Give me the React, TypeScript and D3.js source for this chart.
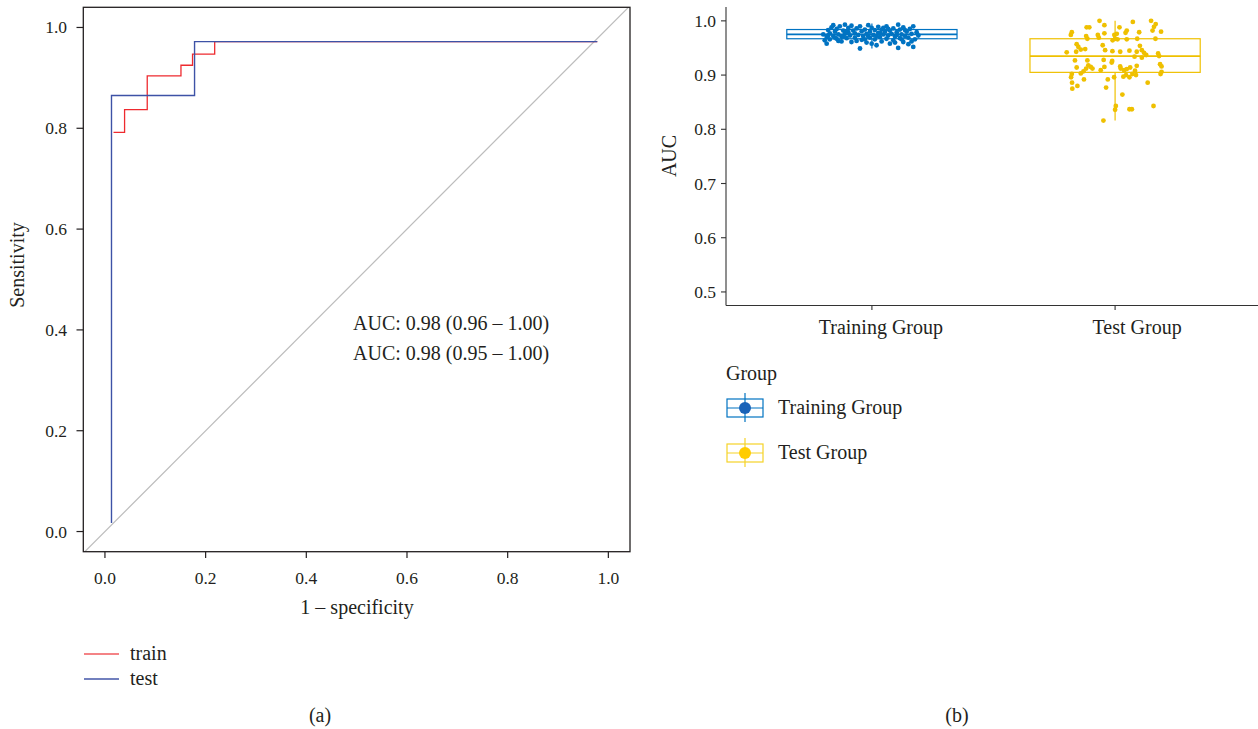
import React from "react";
import * as d3 from "d3";

// ROC step curves, (1 - specificity, sensitivity) corners
const trainFpr = [0.017, 0.039, 0.084, 0.151, 0.174, 0.218, 0.978];
const trainTpr = [0.792, 0.837, 0.904, 0.925, 0.947, 0.972, 0.972];
const testFpr = [0.013, 0.013, 0.178, 0.978];
const testTpr = [0.017, 0.865, 0.972, 0.972];
const rocTicks = [0, 0.2, 0.4, 0.6, 0.8, 1.0];
const aucLabels = ["AUC: 0.98 (0.96 – 1.00)", "AUC: 0.98 (0.95 – 1.00)"];

// panel (b)
const groups = ["Training Group", "Test Group"];
const aucTicks = [0.5, 0.6, 0.7, 0.8, 0.9, 1.0];
// box stats: lower whisker, q1, median, q3, upper whisker
const trainBox = [0.949, 0.967, 0.975, 0.984, 0.995];
const testBox = [0.816, 0.905, 0.935, 0.967, 1.0];

// jittered points: [horizontal jitter (category units), AUC]
const trainPts = [
  [-0.2, 0.975], [-0.194, 0.964], [-0.186, 0.97], [-0.186, 0.958], [-0.18, 0.983],
  [-0.173, 0.977], [-0.173, 0.966], [-0.166, 0.988], [-0.159, 0.972], [-0.159, 0.992],
  [-0.152, 0.98], [-0.145, 0.967], [-0.145, 0.985], [-0.138, 0.975], [-0.132, 0.99],
  [-0.125, 0.971], [-0.125, 0.962], [-0.118, 0.982], [-0.111, 0.993], [-0.111, 0.976],
  [-0.104, 0.968], [-0.097, 0.987], [-0.097, 0.979], [-0.09, 0.973], [-0.084, 0.991],
  [-0.084, 0.961], [-0.077, 0.982], [-0.07, 0.969], [-0.07, 0.977], [-0.063, 0.986],
  [-0.056, 0.974], [-0.049, 0.949], [-0.049, 0.99], [-0.042, 0.965], [-0.042, 0.981],
  [-0.036, 0.972], [-0.029, 0.984], [-0.022, 0.976], [-0.022, 0.96], [-0.015, 0.992],
  [-0.008, 0.969], [-0.008, 0.98], [-0.001, 0.987], [-0.001, 0.958], [0.006, 0.974],
  [0.012, 0.983], [0.012, 0.966], [0.019, 0.955], [0.026, 0.978], [0.026, 0.989],
  [0.033, 0.97], [0.04, 0.984], [0.04, 0.962], [0.047, 0.975], [0.054, 0.98],
  [0.06, 0.967], [0.06, 0.99], [0.067, 0.973], [0.074, 0.958], [0.074, 0.982],
  [0.081, 0.976], [0.088, 0.964], [0.088, 0.986], [0.095, 0.971], [0.102, 0.979],
  [0.108, 0.993], [0.108, 0.95], [0.115, 0.968], [0.115, 0.984], [0.122, 0.975],
  [0.129, 0.961], [0.129, 0.988], [0.136, 0.972], [0.143, 0.98], [0.15, 0.957],
  [0.15, 0.969], [0.156, 0.985], [0.163, 0.976], [0.17, 0.952], [0.17, 0.99],
  [0.177, 0.966], [0.184, 0.979], [0.191, 0.973], [-0.18, 0.973], [-0.138, 0.963],
  [-0.063, 0.963], [0.047, 0.987], [0.095, 0.96], [0.136, 0.983], [-0.015, 0.971],
  [0.163, 0.962], [0.019, 0.972], [-0.104, 0.98], [-0.152, 0.969], [0.067, 0.985],
  [0.122, 0.966], [-0.029, 0.966], [0.102, 0.974], [0.033, 0.978], [-0.118, 0.971],
];
const testPts = [
  [-0.064, 1.0], [-0.044, 0.992], [0.148, 1.0], [0.073, 0.998], [0.167, 0.994],
  [0.16, 0.989], [0.154, 0.982], [0.189, 0.98], [-0.117, 0.988], [-0.106, 0.988],
  [0.018, 0.988], [0.048, 0.982], [0.043, 0.978], [0.099, 0.979], [-0.178, 0.979],
  [-0.182, 0.974], [-0.119, 0.972], [-0.114, 0.967], [-0.071, 0.974], [-0.067, 0.969],
  [-0.044, 0.977], [-0.003, 0.974], [0.007, 0.976], [0, 0.967], [-0.01, 0.964],
  [0.01, 0.966], [0.048, 0.966], [0.091, 0.967], [0.166, 0.967], [-0.158, 0.957],
  [-0.151, 0.952], [-0.141, 0.947], [-0.16, 0.943], [-0.123, 0.948], [-0.199, 0.942],
  [-0.041, 0.946], [-0.051, 0.955], [-0.011, 0.944], [0.021, 0.943], [0.059, 0.945],
  [0.102, 0.954], [0.11, 0.946], [0.119, 0.941], [0.089, 0.943], [0.177, 0.94],
  [0.181, 0.935], [0.128, 0.937], [0.08, 0.934], [0.11, 0.932], [-0.165, 0.927],
  [-0.114, 0.927], [-0.047, 0.928], [-0.012, 0.926], [0.185, 0.92], [0.191, 0.916],
  [-0.11, 0.918], [-0.1, 0.915], [-0.093, 0.912], [-0.119, 0.912], [-0.059, 0.909],
  [-0.044, 0.915], [-0.158, 0.914], [-0.014, 0.923], [0.021, 0.916], [0.023, 0.912],
  [0.037, 0.909], [0.048, 0.911], [0.062, 0.914], [0.089, 0.917], [0.082, 0.908],
  [0.071, 0.902], [0.191, 0.906], [0.187, 0.902], [-0.13, 0.907], [-0.141, 0.903],
  [-0.178, 0.902], [-0.181, 0.896], [-0.177, 0.886], [-0.176, 0.875], [-0.155, 0.88],
  [-0.128, 0.892], [-0.03, 0.892], [-0.037, 0.877], [-0.004, 0.896], [0.034, 0.897],
  [0.045, 0.9], [0.059, 0.896], [0.086, 0.9], [0.134, 0.886], [0.03, 0.864],
  [0.003, 0.843], [0, 0.836], [0.059, 0.837], [0.069, 0.837], [0.158, 0.843],
  [-0.048, 0.816],
];

const FONT = "'Liberation Serif', 'Times New Roman', serif";
const INK = "#231f20";
const RED = "#ee2a2f";
const BLUE = "#3d52a6";
const TRAIN_COL = "#0073C2";
const TEST_COL = "#EFC000";

export default function App() {
  // panel (a)
  const rx = d3.scaleLinear().domain([-0.043, 1.043]).range([83.3, 630]);
  const ry = d3.scaleLinear().domain([-0.04, 1.04]).range([551.7, 7.3]);
  const rocPath = (fpr: number[], tpr: number[]) =>
    d3
      .line<[number, number]>()
      .x((d) => rx(d[0]))
      .y((d) => ry(d[1]))
      .curve(d3.curveStepAfter)(fpr.map((f, i) => [f, tpr[i]]) as [number, number][]);

  // panel (b)
  const bx = d3.scalePoint<string>().domain(groups).range([726, 1261]).padding(0.6);
  const by = d3.scaleLinear().domain([0.475, 1.025]).range([305.5, 7.3]);
  const bw = bx.step() * 0.7;
  const labelNudge = [9, 22];

  const boxes = [
    { g: groups[0], s: trainBox, pts: trainPts, col: TRAIN_COL },
    { g: groups[1], s: testBox, pts: testPts, col: TEST_COL },
  ];

  return (
    <svg
      width={1258}
      height={729}
      style={{ position: "absolute", left: 0, top: 0, background: "#fff" }}
      fontFamily={FONT}
    >
      <defs>
        <clipPath id="rocClip">
          <rect x={rx.range()[0]} y={ry.range()[1]} width={rx.range()[1] - rx.range()[0]} height={ry.range()[0] - ry.range()[1]} />
        </clipPath>
      </defs>

      {/* ---- panel (a) ---- */}
      <g clipPath="url(#rocClip)">
        <line x1={rx(-0.1)} y1={ry(-0.1)} x2={rx(1.1)} y2={ry(1.1)} stroke="#bcbcbc" strokeWidth={1.2} />
        <path d={rocPath(trainFpr, trainTpr) || ""} fill="none" stroke={RED} strokeWidth={1.3} />
        <path d={rocPath(testFpr, testTpr) || ""} fill="none" stroke={BLUE} strokeWidth={1.4} />
      </g>
      <rect
        x={rx.range()[0]}
        y={ry.range()[1]}
        width={rx.range()[1] - rx.range()[0]}
        height={ry.range()[0] - ry.range()[1]}
        fill="none"
        stroke={INK}
        strokeWidth={1.3}
      />
      {rocTicks.map((t) => (
        <g key={"rx" + t}>
          <line x1={rx(t)} x2={rx(t)} y1={551.7} y2={558} stroke={INK} strokeWidth={1.2} />
          <text x={rx(t)} y={584} textAnchor="middle" fontSize={17.5} fill={INK}>
            {t.toFixed(1)}
          </text>
        </g>
      ))}
      {rocTicks.map((t) => (
        <g key={"ry" + t}>
          <line x1={76.5} x2={83.3} y1={ry(t)} y2={ry(t)} stroke={INK} strokeWidth={1.2} />
          <text x={67} y={ry(t) + 6} textAnchor="end" fontSize={17.5} fill={INK}>
            {t.toFixed(1)}
          </text>
        </g>
      ))}
      <text x={357} y={614} textAnchor="middle" fontSize={20} fill={INK}>
        1 – specificity
      </text>
      <text transform="translate(24,265) rotate(-90)" textAnchor="middle" fontSize={20} fill={INK}>
        Sensitivity
      </text>
      {aucLabels.map((s, i) => (
        <text key={s} x={353} y={330 + i * 30} fontSize={20} fill={INK}>
          {s}
        </text>
      ))}
      {[
        { name: "train", col: "#f05a5e" },
        { name: "test", col: "#4356a8" },
      ].map((l, i) => (
        <g key={l.name}>
          <line x1={84} x2={119} y1={654 + i * 25} y2={654 + i * 25} stroke={l.col} strokeWidth={1.4} />
          <text x={130} y={660 + i * 25} fontSize={20} fill={INK}>
            {l.name}
          </text>
        </g>
      ))}
      <text x={320} y={722} textAnchor="middle" fontSize={20} fill={INK}>
        (a)
      </text>

      {/* ---- panel (b) ---- */}
      {boxes.map((b) => {
        const cx = bx(b.g) as number;
        const [lo, q1, md, q3, hi] = b.s;
        return (
          <g key={b.g}>
            <line x1={cx} x2={cx} y1={by(hi)} y2={by(q3)} stroke={b.col} strokeWidth={1.2} />
            <line x1={cx} x2={cx} y1={by(q1)} y2={by(lo)} stroke={b.col} strokeWidth={1.2} />
            <rect x={cx - bw / 2} y={by(q3)} width={bw} height={by(q1) - by(q3)} fill="none" stroke={b.col} strokeWidth={1.2} />
            <line x1={cx - bw / 2} x2={cx + bw / 2} y1={by(md)} y2={by(md)} stroke={b.col} strokeWidth={1.8} />
            {b.pts.map((p, i) => (
              <circle key={i} cx={cx + p[0] * bx.step()} cy={by(p[1])} r={2.4} fill={b.col} />
            ))}
          </g>
        );
      })}
      <line x1={726} x2={726} y1={7} y2={305.5} stroke="#333" strokeWidth={1.1} />
      <line x1={726} x2={1258} y1={305.5} y2={305.5} stroke="#333" strokeWidth={1.1} />
      {aucTicks.map((t) => (
        <g key={"by" + t}>
          <line x1={721} x2={726} y1={by(t)} y2={by(t)} stroke="#333" strokeWidth={1.1} />
          <text x={716} y={by(t) + 6} textAnchor="end" fontSize={17.5} fill={INK}>
            {t.toFixed(1)}
          </text>
        </g>
      ))}
      {groups.map((g, i) => (
        <g key={"bx" + g}>
          <line x1={bx(g)} x2={bx(g)} y1={305.5} y2={310} stroke="#333" strokeWidth={1.1} />
          <text x={(bx(g) as number) + labelNudge[i]} y={334} textAnchor="middle" fontSize={20} fill={INK}>
            {g}
          </text>
        </g>
      ))}
      <text transform="translate(676,156) rotate(-90)" textAnchor="middle" fontSize={20} fill={INK}>
        AUC
      </text>

      {/* legend (b) */}
      <text x={726} y={380} fontSize={20} fill={INK}>
        Group
      </text>
      {[
        { g: groups[0], col: TRAIN_COL, dot: "#1a63b8", cy: 408 },
        { g: groups[1], col: "#f5d327", dot: "#ffcc00", cy: 453 },
      ].map((l) => (
        <g key={"lg" + l.g}>
          <line x1={745} x2={745} y1={l.cy - 15} y2={l.cy + 14} stroke={l.col} strokeWidth={1.2} />
          <rect x={727} y={l.cy - 9} width={36} height={18} fill="none" stroke={l.col} strokeWidth={1.2} />
          <line x1={727} x2={763} y1={l.cy} y2={l.cy} stroke={l.col} strokeWidth={1.2} />
          <circle cx={745} cy={l.cy} r={6} fill={l.dot} />
          <text x={778} y={l.cy + 6} fontSize={20} fill={INK}>
            {l.g}
          </text>
        </g>
      ))}
      <text x={957} y={722} textAnchor="middle" fontSize={20} fill={INK}>
        (b)
      </text>
    </svg>
  );
}
